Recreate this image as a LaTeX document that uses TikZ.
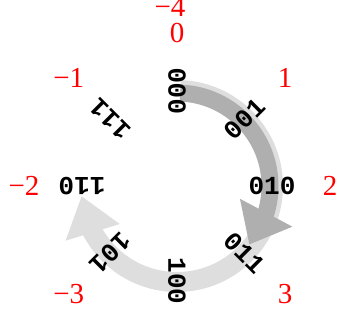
\documentclass[tikz,border=0pt]{standalone}
\usepackage{fontspec}
\setmainfont{Liberation Serif}
\setmonofont{Liberation Mono}
\usetikzlibrary{arrows.meta,bending}
\definecolor{ringdark}{RGB}{175,175,175}
\definecolor{ringlight}{RGB}{222,222,222}
\tikzset{
  bits/.style={font=\fontsize{26}{30}\selectfont\ttfamily\bfseries,inner sep=0pt},
  num/.style={font=\fontsize{29}{32}\selectfont,text=red,inner sep=0pt},
  fwd/.style={line width=17pt,ringdark,-{Triangle[length=36pt,width=57pt]}},
  back/.style={line width=20pt,ringlight,-{Triangle[length=38pt,width=54pt]}},
}

\begin{document}
\begin{tikzpicture}[x=1pt,y=1pt]
\useasboundingbox (0,0) rectangle (347,327);
\coordinate (c) at (177,141);
\def\R{95}
\def\Rn{153}
% the two turns round the wheel
\draw[back] ([shift={(88:96)}]c) arc[start angle=88,end angle=-174,radius=96];
\draw[fwd] ([shift={(88:93)}]c) arc[start angle=88,end angle=-39,radius=93];
\begin{scope}[shift={(c)}]
\foreach \a/\lab in {90/000,45/001,0/010,-45/011,-90/100,-135/101,180/110,135/111}{
  \node[bits,rotate=\a] (b\a) at (\a:\R) {\lab};}
\foreach \a/\lab in {90/0,45/1,0/2,-45/3,135/−1,180/−2,-135/−3}{
  \node[num] (d\a) at (\a:\Rn) {\lab};}
\node[num] (dm4) at (-7,179) {−4};
\end{scope}
\end{tikzpicture}
\end{document}
